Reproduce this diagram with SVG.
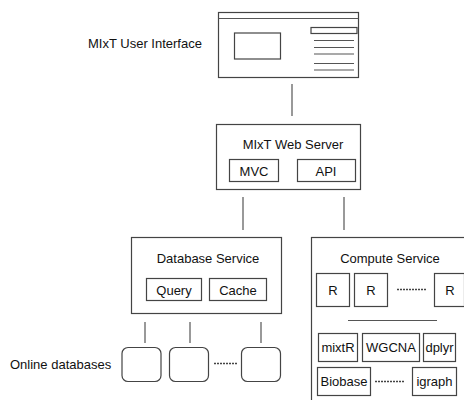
<svg xmlns="http://www.w3.org/2000/svg" width="464" height="400" viewBox="0 0 464 400">
<style>
.box{fill:#fff;stroke:#444;stroke-width:1.2}
.ln{stroke:#555;stroke-width:1.2;fill:none}
.dot{stroke:#444;stroke-width:1.5;stroke-dasharray:2 1;fill:none}
text{font-family:"Liberation Sans",Arial,sans-serif;font-size:13px;fill:#111}
.c{text-anchor:middle}
</style>
<rect width="464" height="400" fill="#fff"/>
<g id="connectors">
<line class="ln" x1="292" y1="84" x2="292" y2="116"/>
<line class="ln" x1="243" y1="197" x2="243" y2="230"/>
<line class="ln" x1="344" y1="197" x2="344" y2="230"/>
<line class="ln" x1="145" y1="322" x2="145" y2="343"/>
<line class="ln" x1="190" y1="322" x2="190" y2="343"/>
<line class="ln" x1="261" y1="322" x2="261" y2="343"/>
</g>
<g id="ui">
<text x="88" y="48">MIxT User Interface</text>
<rect class="box" x="218.5" y="12.5" width="140" height="65"/>
<line class="ln" x1="218.5" y1="18.5" x2="358.5" y2="18.5"/>
<rect class="box" x="234.5" y="33" width="46" height="26"/>
<rect class="box" x="311" y="27.5" width="46" height="6"/>
<line class="ln" x1="314" y1="40.5" x2="354" y2="40.5"/>
<line class="ln" x1="314" y1="47.5" x2="354" y2="47.5"/>
<line class="ln" x1="314" y1="54" x2="354" y2="54"/>
<line class="ln" x1="314" y1="63.5" x2="354" y2="63.5"/>
<line class="ln" x1="314" y1="70" x2="354" y2="70"/>
</g>
<g id="webserver">
<rect class="box" x="216.5" y="124.5" width="144" height="65"/>
<text class="c" x="293" y="148.5">MIxT Web Server</text>
<g id="mvc"><rect class="box" x="229.5" y="159.5" width="49" height="22"/><text class="c" x="254" y="175.5">MVC</text></g>
<g id="api"><rect class="box" x="297.5" y="159.5" width="58" height="22"/><text class="c" x="326" y="175.5">API</text></g>
</g>
<g id="database">
<rect class="box" x="131.5" y="237.5" width="150" height="76"/>
<text class="c" x="208" y="262.5">Database Service</text>
<g id="query"><rect class="box" x="146.5" y="278.5" width="55" height="22"/><text class="c" x="174" y="294.5">Query</text></g>
<g id="cache"><rect class="box" x="209.5" y="278.5" width="57" height="22"/><text class="c" x="238" y="294.5">Cache</text></g>
</g>
<g id="onlinedb">
<text x="10" y="368.5">Online databases</text>
<rect class="box" x="122" y="347.5" width="39" height="34" rx="6"/>
<rect class="box" x="169.5" y="347.5" width="39" height="34" rx="6"/>
<line class="dot" x1="214" y1="363.5" x2="237" y2="363.5"/>
<rect class="box" x="241.5" y="347.5" width="39" height="34" rx="6"/>
</g>
<g id="compute">
<rect class="box" x="311.5" y="237.5" width="170" height="180"/>
<text class="c" x="390" y="262.5">Compute Service</text>
<g id="r1"><rect class="box" x="316.5" y="273.5" width="33" height="33"/><text class="c" x="333" y="295">R</text></g>
<g id="r2"><rect class="box" x="354.5" y="273.5" width="33" height="33"/><text class="c" x="371" y="295">R</text></g>
<line class="dot" x1="397" y1="289.5" x2="426" y2="289.5"/>
<g id="r3"><rect class="box" x="434.5" y="273.5" width="30" height="33"/><text class="c" x="450" y="295">R</text></g>
<line class="ln" x1="348" y1="320.5" x2="437" y2="320.5" stroke="#777"/>
<g id="mixtr"><rect class="box" x="318.5" y="333.5" width="39" height="28"/><text class="c" x="338" y="352">mixtR</text></g>
<g id="wgcna"><rect class="box" x="362.5" y="333.5" width="57" height="28"/><text class="c" x="391" y="352">WGCNA</text></g>
<g id="dplyr"><rect class="box" x="423.5" y="333.5" width="32" height="28"/><text class="c" x="439.5" y="352">dplyr</text></g>
<g id="biobase"><rect class="box" x="317.5" y="367.5" width="53" height="28"/><text class="c" x="344" y="386">Biobase</text></g>
<line class="dot" x1="375" y1="381.5" x2="404" y2="381.5"/>
<g id="igraph"><rect class="box" x="412.5" y="367.5" width="44" height="28"/><text class="c" x="434.5" y="386">igraph</text></g>
</g>
</svg>
